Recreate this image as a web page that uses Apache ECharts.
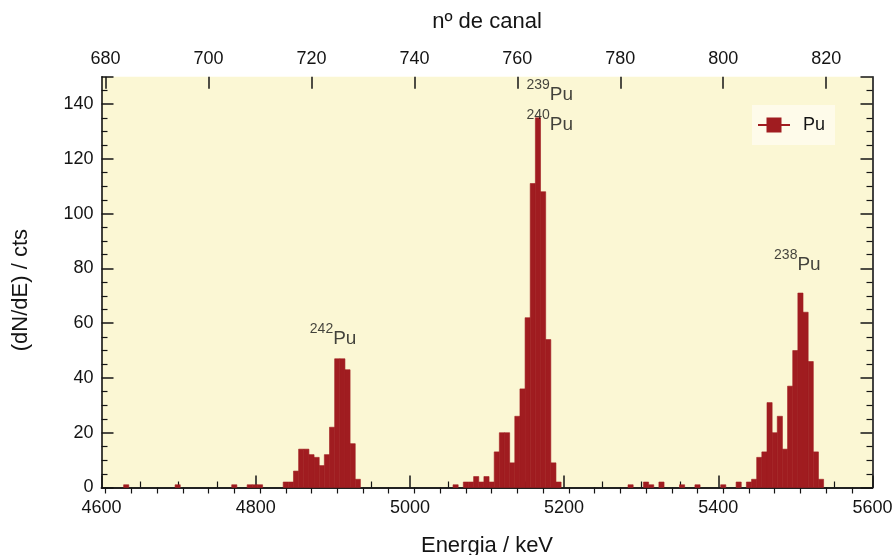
<!DOCTYPE html>
<html>
<head>
<meta charset="utf-8">
<script src="https://cdn.jsdelivr.net/npm/echarts@6/dist/echarts.min.js"></script>
<style>
html,body{margin:0;padding:0;background:#ffffff;}
#chart{width:896px;height:555px;}
</style>
</head>
<body>
<div id="chart"></div>
<script>
// Histogram: channel number -> counts
const channels = [684, 694, 705, 708, 709, 710,
  715, 716, 717, 718, 719, 720, 721, 722, 723, 724, 725, 726, 727, 728, 729,
  748, 750, 751, 752, 753, 754, 755, 756, 757, 758, 759, 760, 761, 762, 763, 764, 765, 766, 767, 768,
  782, 785, 786, 788, 792, 795, 800, 803,
  805, 806, 807, 808, 809, 810, 811, 812, 813, 814, 815, 816, 817, 818, 819];
const counts = [1, 1, 1, 1, 1, 1,
  2, 2, 6, 14, 14, 12, 11, 8, 12, 22, 47, 47, 43, 16, 3,
  1, 2, 2, 4, 2, 4, 2, 13, 20, 20, 9, 26, 36, 62, 111, 135, 108, 54, 9, 2,
  1, 2, 1, 2, 1, 1, 1, 2,
  2, 3, 11, 13, 31, 20, 26, 14, 37, 50, 71, 64, 46, 13, 3];

// Axis ticks
const energyRange = [4600, 5600];
const channelRange = [679.2, 829.0];
const channelLabels = [680, 700, 720, 740, 760, 780, 800, 820];
const channelMinorTicks = [680,685,690,695,700,705,710,715,720,725,730,735,740,745,750,755,760,765,770,775,780,785,790,795,800,805,810,815,820,825];

// Peak annotations: [channel, counts, mass number]
const peakLabelCh = [724.2, 766.3, 766.3, 814.4];
const peakLabelY = [55.5, 144.8, 133.8, 82.5];
const peakLabelMass = ['242', '239', '240', '238'];

const RED = '#a01c20';
const INK = '#141414';
const FONT = '"Liberation Sans", Arial, Helvetica, sans-serif';

const histData = channels.map((c, i) => [c, counts[i]]);
const labelData = peakLabelCh.map((c, i) => [c, peakLabelY[i], peakLabelMass[i]]);

const chart = echarts.init(document.getElementById('chart'), null, {renderer: 'canvas'});

const axisLineStyle = {show: true, lineStyle: {color: INK, width: 1.6}};
const plain = v => String(v);

chart.setOption({
  animation: false,
  backgroundColor: '#ffffff',
  textStyle: {fontFamily: FONT},
  grid: {left: 101.5, right: 23.5, top: 76.7, bottom: 67.5, show: true, backgroundColor: '#fbf7d4', borderWidth: 0,
         containLabel: false, outerBoundsMode: 'none'},
  legend: {
    data: ['Pu'],
    left: 752, top: 105,
    backgroundColor: '#fefbea',
    padding: [11, 10, 11, 6],
    itemWidth: 32, itemHeight: 15,
    icon: 'path://M0,6.5H8.5V0H23.5V6.5H32V8.5H23.5V15H8.5V8.5H0Z',
    textStyle: {fontSize: 18, color: INK, fontFamily: FONT, padding: [0, 0, 0, 8]}
  },
  xAxis: [
    {
      type: 'value', position: 'bottom', min: energyRange[0], max: energyRange[1], interval: 200,
      axisLine: axisLineStyle,
      axisTick: {show: true, inside: true, length: 12, lineStyle: {color: INK, width: 1.5}},
      minorTick: {show: true, splitNumber: 4, length: 6, lineStyle: {color: INK, width: 1.2}},
      splitLine: {show: false},
      axisLabel: {fontSize: 18, color: INK, margin: 12, fontFamily: FONT, formatter: plain},
      name: 'Energia / keV', nameLocation: 'middle', nameGap: 47,
      nameTextStyle: {fontSize: 22, color: INK, fontFamily: FONT}
    },
    {
      type: 'value', position: 'top', min: channelRange[0], max: channelRange[1],
      axisLine: axisLineStyle,
      axisTick: {show: true, inside: true, length: 6, customValues: channelMinorTicks, lineStyle: {color: INK, width: 1.2}},
      splitLine: {show: false},
      axisLabel: {fontSize: 18, color: INK, margin: 9, customValues: channelLabels, fontFamily: FONT, formatter: plain},
      name: 'nº de canal', nameLocation: 'middle', nameGap: 44,
      nameTextStyle: {fontSize: 22, color: INK, fontFamily: FONT}
    },
    {
      type: 'value', position: 'top', min: channelRange[0], max: channelRange[1],
      axisLine: {show: false},
      axisTick: {show: true, inside: true, length: 12, customValues: channelLabels, lineStyle: {color: INK, width: 1.5}},
      splitLine: {show: false},
      axisLabel: {show: false}
    }
  ],
  yAxis: [
    {
      type: 'value', position: 'left', min: 0, max: 150, interval: 20,
      axisLine: axisLineStyle,
      axisTick: {show: true, inside: true, length: 12, lineStyle: {color: INK, width: 1.5}},
      minorTick: {show: true, splitNumber: 4, length: 6, lineStyle: {color: INK, width: 1.2}},
      splitLine: {show: false},
      axisLabel: {fontSize: 18, color: INK, margin: 8, showMaxLabel: false, fontFamily: FONT, formatter: plain},
      name: '(dN/dE) / cts', nameLocation: 'middle', nameGap: 70, nameRotate: 90,
      nameTextStyle: {fontSize: 22, color: INK, fontFamily: FONT, padding: [0, 16, 0, 0]}
    },
    {
      type: 'value', position: 'right', min: 0, max: 150, interval: 20,
      axisLine: axisLineStyle,
      axisTick: {show: true, inside: true, length: 12, lineStyle: {color: INK, width: 1.5}},
      minorTick: {show: true, splitNumber: 4, length: 6, lineStyle: {color: INK, width: 1.2}},
      splitLine: {show: false},
      axisLabel: {show: false}
    }
  ],
  series: [
    {
      name: 'Pu', type: 'custom', xAxisIndex: 1, yAxisIndex: 0,
      itemStyle: {color: RED},
      data: histData,
      z: 1,
      renderItem: function (params, api) {
        const c = api.value(0), v = api.value(1);
        const p0 = api.coord([c - 0.5, v]);
        const p1 = api.coord([c + 0.5, 0]);
        return {
          type: 'rect',
          shape: {x: p0[0], y: p0[1], width: p1[0] - p0[0], height: p1[1] - p0[1]},
          style: {fill: RED, stroke: RED, lineWidth: 0.6}
        };
      }
    },
    {
      name: 'labels', type: 'scatter', xAxisIndex: 1, yAxisIndex: 0,
      symbolSize: 0, silent: true, z: 5,
      data: labelData,
      label: {
        show: true, position: 'inside',
        formatter: function (p) { return '{sup|' + p.value[2] + '}{el|Pu}'; },
        rich: {
          sup: {fontSize: 14, color: INK, fontFamily: FONT, verticalAlign: 'top', lineHeight: 26},
          el: {fontSize: 19, color: INK, fontFamily: FONT, verticalAlign: 'bottom', lineHeight: 26}
        }
      }
    }
  ]
});
</script>
</body>
</html>
